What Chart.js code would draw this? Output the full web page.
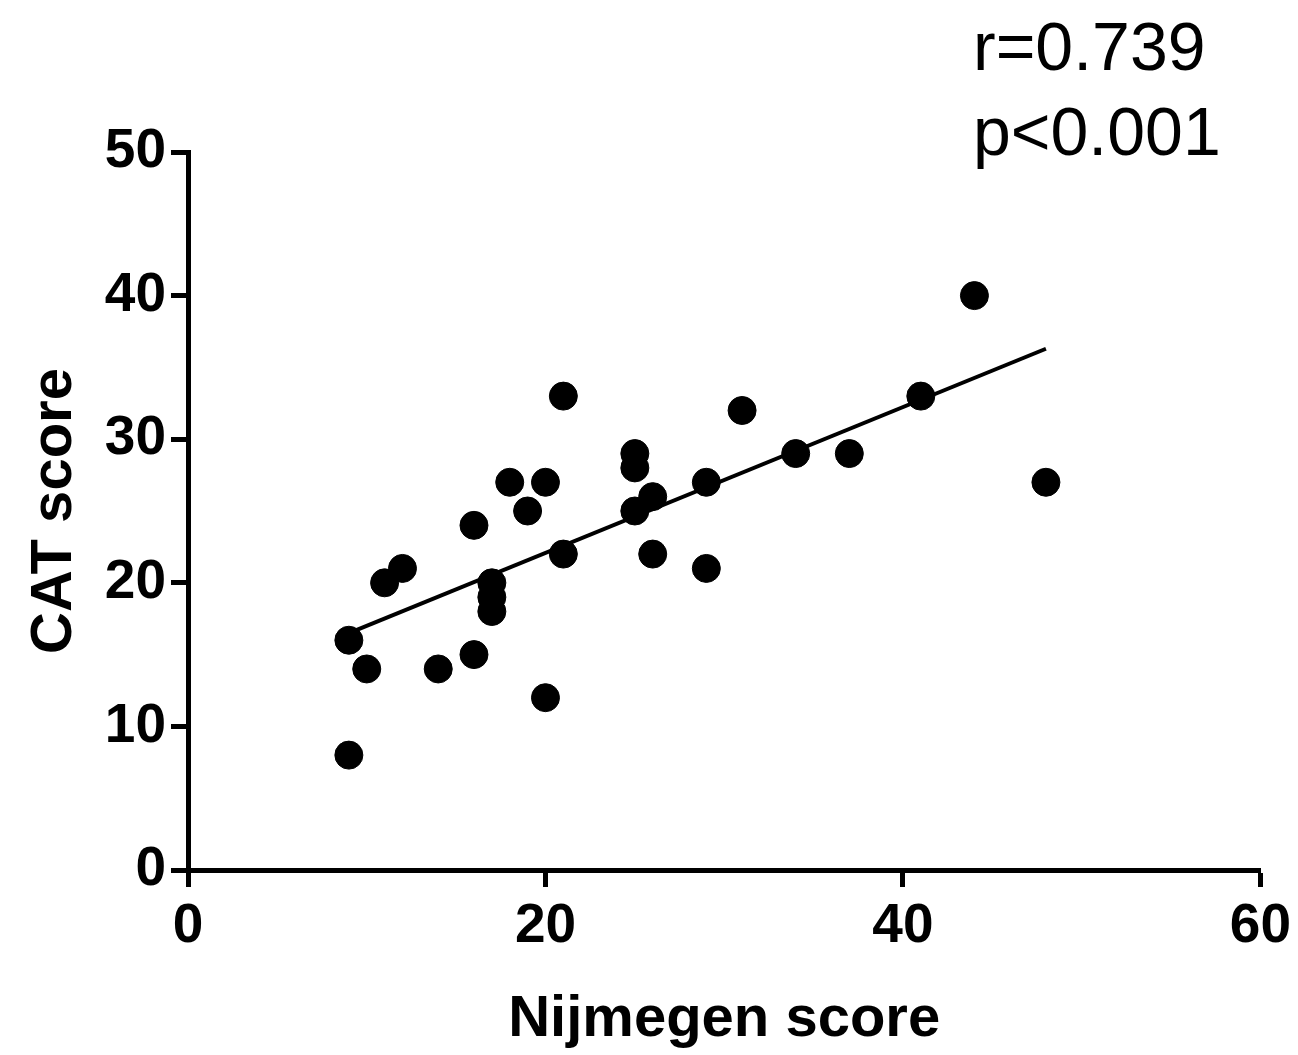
<!DOCTYPE html>
<html>
<head>
<meta charset="utf-8">
<script src="https://cdn.jsdelivr.net/npm/chart.js@4.4.0/dist/chart.umd.min.js"></script>
<style>
  html, body { margin: 0; padding: 0; background: #fff; }
  #wrap { width: 1298px; height: 1055px; }
</style>
</head>
<body>
<div id="wrap"><canvas id="myChart" width="1298" height="1055"></canvas></div>
<script>
// Nijmegen score vs CAT score
var nijmegen = [9, 9, 10, 11, 12, 14, 16, 16, 17, 17, 17, 18, 19, 20, 20, 21, 21, 25, 25, 25, 26, 26, 29, 29, 31, 34, 37, 41, 44, 48];
var catScore = [16, 8, 14, 20, 21, 14, 15, 24, 20, 19, 18, 27, 25, 27, 12, 33, 22, 29, 28, 25, 26, 22, 27, 21, 32, 29, 29, 33, 40, 27];
// regression line ends
var fitX = [9, 48];
var fitY = [16.5, 36.3];
var xTicks = [0, 20, 40, 60];
var yTicks = [0, 10, 20, 30, 40, 50];
var statLines = ['r=0.739', 'p<0.001'];

var tickFont = { family: 'Liberation Sans', size: 55, weight: 'bold' };
var titleFont = { family: 'Liberation Sans', size: 58, weight: 'bold' };

// r / p text in the top right corner
var statsText = {
  id: 'statsText',
  afterDraw: function (chart) {
    var ctx = chart.ctx;
    ctx.save();
    ctx.fillStyle = '#000';
    ctx.font = '68px "Liberation Sans"';
    ctx.textAlign = 'left';
    ctx.textBaseline = 'alphabetic';
    ctx.fillText(statLines[0], 973, 70);
    ctx.fillText(statLines[1], 973, 155);
    ctx.restore();
  }
};

const points = nijmegen.map(function (x, i) { return { x: x, y: catScore[i] }; });
const fitLine = fitX.map(function (x, i) { return { x: x, y: fitY[i] }; });

const config = {
  type: 'scatter',
  data: {
    datasets: [{
      label: 'patients',
      data: points,
      backgroundColor: '#000',
      borderColor: '#000',
      pointRadius: 14,
      pointHoverRadius: 14
    }, {
      label: 'fit',
      data: fitLine,
      showLine: true,
      borderColor: '#000',
      borderWidth: 4,
      pointRadius: 0,
      fill: false
    }]
  },
  options: {
    responsive: false,
    animation: false,
    layout: { padding: { top: 152, right: 35, left: 0, bottom: 0 } },
    plugins: {
      legend: { display: false },
      tooltip: { enabled: false }
    },
    scales: {
      x: {
        type: 'linear',
        min: 0,
        max: 60,
        afterBuildTicks: function (axis) { axis.ticks = xTicks.map(function (v) { return { value: v }; }); },
        afterFit: function (axis) { axis.height = 185; },
        ticks: { font: tickFont, color: '#000', padding: 7, maxRotation: 0 },
        grid: { drawOnChartArea: false, tickLength: 17, tickWidth: 5, tickColor: '#000' },
        border: { display: true, color: '#000', width: 5 },
        title: { display: true, text: 'Nijmegen score', font: titleFont, color: '#000', padding: { top: 0, bottom: 0 } }
      },
      y: {
        type: 'linear',
        min: 0,
        max: 50,
        afterBuildTicks: function (axis) { axis.ticks = yTicks.map(function (v) { return { value: v }; }); },
        afterFit: function (axis) { axis.width = 188; },
        ticks: { font: tickFont, color: '#000', padding: 5 },
        grid: { drawOnChartArea: false, tickLength: 17, tickWidth: 5, tickColor: '#000' },
        border: { display: true, color: '#000', width: 5 },
        title: { display: true, text: 'CAT score', font: titleFont, color: '#000', padding: { top: 20, bottom: 4 } }
      }
    }
  },
  plugins: [statsText]
};

const ctx = document.getElementById('myChart');
let chart = new Chart(ctx, config);
</script>
</body>
</html>
